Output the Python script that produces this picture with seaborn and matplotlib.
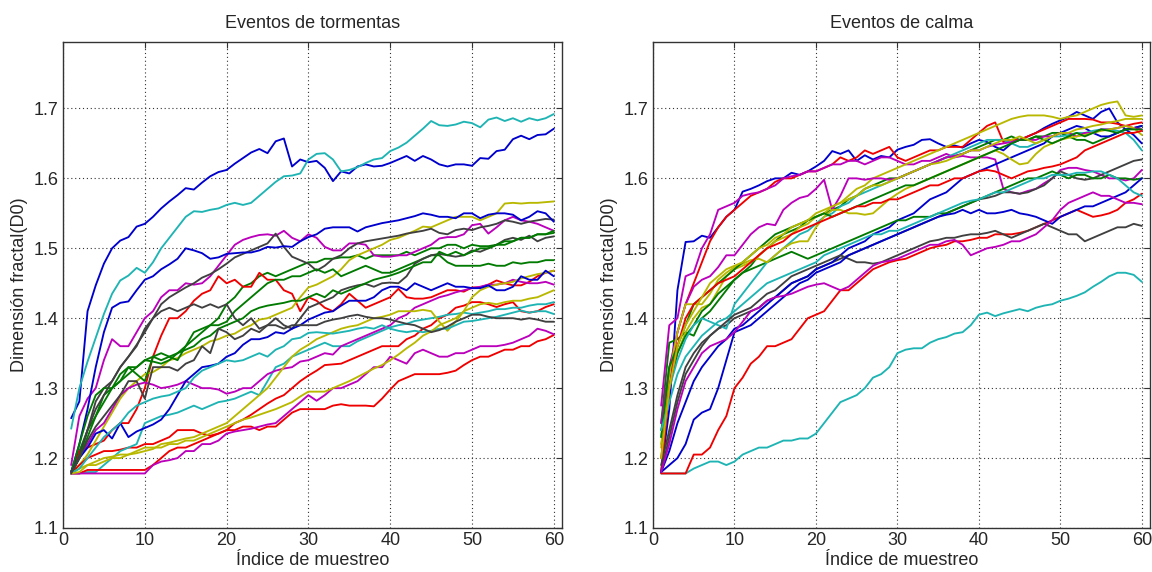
import numpy as np
import pandas as pd
import matplotlib
matplotlib.use("Agg")
import matplotlib.pyplot as plt
import seaborn as sns

sns.set_style("white")
plt.rcParams["font.family"] = ["Liberation Sans", "DejaVu Sans"]

# ---------------------------------------------------------------- storm events
storm_b1 = [1.257, 1.281, 1.41, 1.447, 1.478, 1.50, 1.511, 1.516, 1.531, 1.535, 1.545, 1.557, 1.567, 1.576, 1.586, 1.584, 1.594, 1.603, 1.609, 1.612, 1.621, 1.629, 1.637, 1.642, 1.636, 1.653, 1.657, 1.617, 1.627, 1.623, 1.625, 1.615, 1.596, 1.61, 1.607, 1.617, 1.62, 1.617, 1.618, 1.622, 1.627, 1.632, 1.625, 1.632, 1.627, 1.62, 1.617, 1.62, 1.62, 1.618, 1.629, 1.628, 1.639, 1.641, 1.656, 1.661, 1.656, 1.662, 1.663, 1.671]
storm_g1 = [1.18, 1.21, 1.24, 1.26, 1.29, 1.30, 1.31, 1.33, 1.33, 1.34, 1.345, 1.34, 1.345, 1.35, 1.36, 1.37, 1.38, 1.39, 1.40, 1.42, 1.43, 1.445, 1.45, 1.46, 1.465, 1.46, 1.465, 1.47, 1.475, 1.48, 1.48, 1.485, 1.485, 1.487, 1.487, 1.49, 1.485, 1.49, 1.49, 1.49, 1.49, 1.495, 1.49, 1.495, 1.50, 1.50, 1.505, 1.505, 1.50, 1.505, 1.503, 1.503, 1.505, 1.505, 1.51, 1.515, 1.515, 1.52, 1.52, 1.522]
storm_r1 = [1.18, 1.21, 1.215, 1.22, 1.225, 1.24, 1.25, 1.25, 1.27, 1.30, 1.345, 1.375, 1.40, 1.40, 1.41, 1.425, 1.435, 1.44, 1.46, 1.45, 1.455, 1.445, 1.445, 1.465, 1.455, 1.455, 1.44, 1.435, 1.41, 1.43, 1.425, 1.415, 1.41, 1.42, 1.435, 1.425, 1.415, 1.42, 1.425, 1.43, 1.442, 1.43, 1.428, 1.428, 1.43, 1.435, 1.44, 1.44, 1.438, 1.444, 1.444, 1.448, 1.454, 1.45, 1.447, 1.447, 1.452, 1.46, 1.465, 1.468]
storm_c1 = [1.242, 1.30, 1.338, 1.372, 1.406, 1.435, 1.454, 1.461, 1.472, 1.465, 1.48, 1.50, 1.515, 1.53, 1.545, 1.553, 1.552, 1.555, 1.557, 1.562, 1.565, 1.562, 1.565, 1.575, 1.585, 1.595, 1.603, 1.604, 1.607, 1.627, 1.635, 1.636, 1.627, 1.61, 1.612, 1.616, 1.622, 1.627, 1.629, 1.639, 1.644, 1.651, 1.661, 1.671, 1.682, 1.676, 1.675, 1.677, 1.681, 1.679, 1.673, 1.684, 1.687, 1.682, 1.686, 1.681, 1.686, 1.683, 1.686, 1.692]
storm_m1 = [1.19, 1.26, 1.285, 1.30, 1.34, 1.37, 1.36, 1.36, 1.38, 1.40, 1.41, 1.43, 1.44, 1.44, 1.45, 1.448, 1.45, 1.46, 1.475, 1.49, 1.505, 1.512, 1.516, 1.519, 1.52, 1.518, 1.525, 1.515, 1.51, 1.52, 1.515, 1.502, 1.497, 1.497, 1.507, 1.507, 1.505, 1.49, 1.488, 1.488, 1.49, 1.49, 1.495, 1.50, 1.505, 1.514, 1.516, 1.516, 1.52, 1.533, 1.535, 1.521, 1.53, 1.54, 1.545, 1.54, 1.538, 1.535, 1.53, 1.525]
storm_y1 = [1.18, 1.19, 1.205, 1.225, 1.245, 1.265, 1.285, 1.30, 1.31, 1.32, 1.323, 1.33, 1.34, 1.343, 1.35, 1.355, 1.36, 1.367, 1.37, 1.375, 1.378, 1.385, 1.39, 1.398, 1.40, 1.405, 1.41, 1.415, 1.43, 1.444, 1.448, 1.454, 1.46, 1.47, 1.483, 1.49, 1.495, 1.50, 1.505, 1.512, 1.515, 1.52, 1.525, 1.531, 1.53, 1.535, 1.54, 1.545, 1.545, 1.545, 1.54, 1.545, 1.55, 1.564, 1.565, 1.564, 1.565, 1.565, 1.566, 1.567]
storm_k1 = [1.18, 1.204, 1.24, 1.281, 1.30, 1.31, 1.33, 1.345, 1.362, 1.38, 1.40, 1.42, 1.43, 1.437, 1.444, 1.45, 1.458, 1.463, 1.47, 1.478, 1.487, 1.492, 1.497, 1.502, 1.507, 1.521, 1.502, 1.488, 1.483, 1.478, 1.468, 1.475, 1.485, 1.49, 1.50, 1.507, 1.51, 1.512, 1.514, 1.516, 1.518, 1.521, 1.523, 1.525, 1.528, 1.522, 1.52, 1.526, 1.528, 1.526, 1.53, 1.532, 1.535, 1.54, 1.538, 1.535, 1.538, 1.54, 1.542, 1.541]
storm_b2 = [1.18, 1.22, 1.27, 1.33, 1.38, 1.415, 1.422, 1.424, 1.44, 1.455, 1.46, 1.47, 1.477, 1.485, 1.50, 1.497, 1.493, 1.485, 1.487, 1.492, 1.493, 1.494, 1.494, 1.497, 1.502, 1.501, 1.503, 1.502, 1.51, 1.516, 1.52, 1.528, 1.53, 1.53, 1.53, 1.524, 1.53, 1.533, 1.536, 1.538, 1.54, 1.543, 1.546, 1.55, 1.548, 1.545, 1.545, 1.543, 1.55, 1.55, 1.543, 1.548, 1.55, 1.55, 1.548, 1.54, 1.545, 1.553, 1.55, 1.538]
storm_g2 = [1.18, 1.22, 1.26, 1.29, 1.30, 1.30, 1.32, 1.33, 1.32, 1.31, 1.345, 1.35, 1.345, 1.34, 1.36, 1.38, 1.385, 1.39, 1.39, 1.395, 1.41, 1.42, 1.43, 1.44, 1.45, 1.455, 1.455, 1.46, 1.46, 1.465, 1.47, 1.465, 1.47, 1.46, 1.465, 1.47, 1.475, 1.47, 1.465, 1.465, 1.47, 1.475, 1.48, 1.485, 1.49, 1.49, 1.48, 1.475, 1.475, 1.475, 1.475, 1.478, 1.475, 1.475, 1.48, 1.478, 1.48, 1.48, 1.483, 1.483]
storm_r2 = [1.178, 1.19, 1.20, 1.205, 1.21, 1.21, 1.212, 1.215, 1.215, 1.22, 1.22, 1.225, 1.23, 1.24, 1.24, 1.24, 1.235, 1.232, 1.235, 1.24, 1.25, 1.255, 1.262, 1.27, 1.278, 1.285, 1.29, 1.30, 1.31, 1.318, 1.325, 1.333, 1.334, 1.335, 1.34, 1.345, 1.35, 1.355, 1.36, 1.36, 1.36, 1.37, 1.375, 1.385, 1.39, 1.40, 1.405, 1.415, 1.418, 1.423, 1.423, 1.42, 1.416, 1.42, 1.423, 1.41, 1.408, 1.41, 1.416, 1.42]
storm_c2 = [1.178, 1.178, 1.18, 1.18, 1.19, 1.20, 1.21, 1.215, 1.22, 1.25, 1.255, 1.26, 1.262, 1.265, 1.27, 1.275, 1.27, 1.275, 1.28, 1.282, 1.285, 1.29, 1.295, 1.29, 1.31, 1.33, 1.335, 1.345, 1.35, 1.355, 1.36, 1.365, 1.36, 1.36, 1.36, 1.367, 1.372, 1.377, 1.382, 1.387, 1.39, 1.392, 1.396, 1.398, 1.40, 1.402, 1.405, 1.406, 1.408, 1.406, 1.408, 1.41, 1.413, 1.413, 1.415, 1.415, 1.418, 1.42, 1.42, 1.423]
storm_m2 = [1.18, 1.20, 1.22, 1.24, 1.25, 1.27, 1.29, 1.30, 1.305, 1.308, 1.305, 1.30, 1.302, 1.305, 1.31, 1.305, 1.30, 1.30, 1.298, 1.292, 1.295, 1.30, 1.30, 1.31, 1.32, 1.325, 1.328, 1.33, 1.338, 1.34, 1.345, 1.35, 1.348, 1.36, 1.365, 1.37, 1.375, 1.38, 1.385, 1.39, 1.40, 1.405, 1.415, 1.42, 1.425, 1.43, 1.433, 1.437, 1.44, 1.443, 1.445, 1.448, 1.448, 1.45, 1.455, 1.452, 1.45, 1.45, 1.452, 1.448]
storm_y2 = [1.178, 1.185, 1.19, 1.195, 1.20, 1.202, 1.205, 1.205, 1.207, 1.21, 1.213, 1.22, 1.222, 1.225, 1.228, 1.23, 1.235, 1.24, 1.245, 1.25, 1.26, 1.27, 1.28, 1.29, 1.30, 1.315, 1.33, 1.345, 1.355, 1.362, 1.37, 1.375, 1.38, 1.385, 1.388, 1.39, 1.395, 1.40, 1.402, 1.405, 1.41, 1.41, 1.41, 1.412, 1.41, 1.395, 1.382, 1.395, 1.41, 1.43, 1.44, 1.445, 1.448, 1.45, 1.452, 1.457, 1.46, 1.463, 1.465, 1.468]
storm_k2 = [1.18, 1.20, 1.24, 1.27, 1.29, 1.31, 1.33, 1.345, 1.36, 1.385, 1.40, 1.41, 1.415, 1.41, 1.415, 1.42, 1.415, 1.42, 1.415, 1.42, 1.40, 1.39, 1.40, 1.385, 1.39, 1.40, 1.39, 1.385, 1.40, 1.415, 1.42, 1.425, 1.43, 1.44, 1.444, 1.447, 1.449, 1.445, 1.45, 1.451, 1.45, 1.46, 1.478, 1.485, 1.49, 1.492, 1.49, 1.488, 1.49, 1.497, 1.495, 1.50, 1.505, 1.512, 1.515, 1.512, 1.518, 1.51, 1.515, 1.517]
storm_b3 = [1.178, 1.20, 1.215, 1.235, 1.24, 1.228, 1.25, 1.23, 1.238, 1.243, 1.248, 1.255, 1.27, 1.29, 1.31, 1.32, 1.33, 1.332, 1.335, 1.345, 1.35, 1.362, 1.37, 1.37, 1.373, 1.38, 1.378, 1.385, 1.39, 1.398, 1.403, 1.408, 1.41, 1.418, 1.425, 1.425, 1.425, 1.43, 1.44, 1.445, 1.445, 1.44, 1.45, 1.445, 1.44, 1.445, 1.45, 1.445, 1.445, 1.443, 1.443, 1.447, 1.44, 1.44, 1.445, 1.46, 1.455, 1.455, 1.468, 1.46]
storm_g3 = [1.178, 1.20, 1.23, 1.26, 1.28, 1.30, 1.31, 1.32, 1.33, 1.34, 1.338, 1.335, 1.34, 1.35, 1.355, 1.36, 1.37, 1.375, 1.385, 1.39, 1.395, 1.40, 1.41, 1.415, 1.418, 1.42, 1.422, 1.425, 1.425, 1.43, 1.435, 1.43, 1.44, 1.435, 1.44, 1.445, 1.45, 1.455, 1.458, 1.461, 1.465, 1.47, 1.475, 1.48, 1.48, 1.495, 1.49, 1.495, 1.49, 1.495, 1.50, 1.50, 1.505, 1.51, 1.51, 1.515, 1.515, 1.52, 1.52, 1.525]
storm_r3 = [1.178, 1.178, 1.183, 1.183, 1.183, 1.183, 1.183, 1.183, 1.183, 1.183, 1.19, 1.20, 1.21, 1.215, 1.215, 1.22, 1.225, 1.23, 1.235, 1.24, 1.24, 1.245, 1.245, 1.24, 1.245, 1.245, 1.255, 1.265, 1.27, 1.27, 1.27, 1.27, 1.275, 1.277, 1.275, 1.275, 1.275, 1.274, 1.285, 1.298, 1.31, 1.315, 1.32, 1.32, 1.32, 1.32, 1.322, 1.325, 1.333, 1.34, 1.345, 1.345, 1.35, 1.355, 1.355, 1.36, 1.36, 1.367, 1.37, 1.376]
storm_c3 = [1.178, 1.185, 1.20, 1.215, 1.23, 1.24, 1.25, 1.265, 1.275, 1.28, 1.285, 1.288, 1.29, 1.295, 1.30, 1.315, 1.325, 1.33, 1.335, 1.34, 1.338, 1.34, 1.345, 1.35, 1.345, 1.355, 1.36, 1.37, 1.372, 1.379, 1.38, 1.379, 1.378, 1.38, 1.382, 1.385, 1.387, 1.385, 1.39, 1.385, 1.382, 1.38, 1.382, 1.38, 1.382, 1.385, 1.385, 1.39, 1.395, 1.396, 1.398, 1.40, 1.402, 1.405, 1.408, 1.411, 1.408, 1.41, 1.41, 1.406]
storm_m3 = [1.178, 1.178, 1.178, 1.178, 1.178, 1.178, 1.178, 1.178, 1.178, 1.178, 1.19, 1.195, 1.197, 1.20, 1.21, 1.21, 1.22, 1.22, 1.225, 1.235, 1.238, 1.24, 1.242, 1.245, 1.248, 1.25, 1.26, 1.27, 1.28, 1.29, 1.282, 1.29, 1.30, 1.30, 1.305, 1.31, 1.32, 1.33, 1.33, 1.345, 1.34, 1.335, 1.35, 1.355, 1.35, 1.345, 1.345, 1.35, 1.35, 1.355, 1.36, 1.36, 1.36, 1.362, 1.365, 1.37, 1.375, 1.385, 1.382, 1.377]
storm_y3 = [1.178, 1.18, 1.19, 1.19, 1.195, 1.20, 1.20, 1.205, 1.21, 1.215, 1.215, 1.215, 1.22, 1.22, 1.225, 1.225, 1.23, 1.235, 1.24, 1.245, 1.25, 1.255, 1.258, 1.262, 1.266, 1.27, 1.275, 1.28, 1.288, 1.295, 1.295, 1.295, 1.30, 1.305, 1.31, 1.316, 1.322, 1.328, 1.333, 1.34, 1.348, 1.357, 1.365, 1.375, 1.381, 1.39, 1.395, 1.40, 1.41, 1.415, 1.42, 1.422, 1.42, 1.423, 1.425, 1.425, 1.428, 1.43, 1.435, 1.44]
storm_k3 = [1.178, 1.20, 1.225, 1.245, 1.26, 1.275, 1.29, 1.31, 1.31, 1.285, 1.33, 1.33, 1.33, 1.325, 1.335, 1.34, 1.36, 1.35, 1.385, 1.38, 1.37, 1.375, 1.385, 1.38, 1.39, 1.39, 1.385, 1.39, 1.39, 1.39, 1.39, 1.395, 1.398, 1.40, 1.403, 1.405, 1.402, 1.40, 1.40, 1.398, 1.395, 1.392, 1.39, 1.385, 1.38, 1.383, 1.388, 1.395, 1.40, 1.405, 1.405, 1.402, 1.40, 1.40, 1.40, 1.398, 1.40, 1.398, 1.395, 1.395]

# ----------------------------------------------------------------- calm events
calm_b1 = [1.18, 1.27, 1.44, 1.509, 1.51, 1.518, 1.515, 1.53, 1.545, 1.555, 1.581, 1.585, 1.59, 1.596, 1.60, 1.60, 1.608, 1.605, 1.61, 1.617, 1.625, 1.639, 1.635, 1.64, 1.625, 1.633, 1.627, 1.632, 1.63, 1.641, 1.645, 1.648, 1.655, 1.656, 1.65, 1.645, 1.647, 1.644, 1.65, 1.655, 1.652, 1.645, 1.64, 1.65, 1.655, 1.66, 1.665, 1.672, 1.678, 1.683, 1.688, 1.695, 1.69, 1.685, 1.695, 1.70, 1.68, 1.67, 1.662, 1.65]
calm_g1 = [1.25, 1.365, 1.37, 1.38, 1.375, 1.40, 1.41, 1.425, 1.44, 1.455, 1.465, 1.475, 1.49, 1.50, 1.51, 1.52, 1.525, 1.53, 1.54, 1.545, 1.55, 1.555, 1.56, 1.57, 1.575, 1.585, 1.59, 1.595, 1.60, 1.60, 1.605, 1.61, 1.615, 1.62, 1.625, 1.63, 1.632, 1.635, 1.64, 1.645, 1.65, 1.655, 1.655, 1.66, 1.655, 1.655, 1.66, 1.66, 1.665, 1.665, 1.66, 1.655, 1.655, 1.65, 1.655, 1.66, 1.665, 1.67, 1.672, 1.675]
calm_r1 = [1.18, 1.30, 1.38, 1.42, 1.45, 1.48, 1.51, 1.53, 1.545, 1.555, 1.565, 1.575, 1.58, 1.585, 1.595, 1.60, 1.60, 1.605, 1.61, 1.61, 1.615, 1.62, 1.63, 1.625, 1.63, 1.64, 1.635, 1.64, 1.645, 1.63, 1.625, 1.63, 1.635, 1.64, 1.64, 1.645, 1.645, 1.645, 1.655, 1.665, 1.675, 1.68, 1.652, 1.655, 1.655, 1.66, 1.665, 1.67, 1.675, 1.68, 1.685, 1.685, 1.685, 1.684, 1.68, 1.68, 1.678, 1.675, 1.678, 1.68]
calm_c1 = [1.178, 1.178, 1.178, 1.178, 1.185, 1.19, 1.195, 1.195, 1.19, 1.195, 1.205, 1.21, 1.215, 1.215, 1.22, 1.225, 1.225, 1.228, 1.228, 1.235, 1.25, 1.265, 1.28, 1.285, 1.29, 1.30, 1.315, 1.32, 1.33, 1.35, 1.355, 1.357, 1.357, 1.365, 1.37, 1.373, 1.378, 1.38, 1.39, 1.405, 1.408, 1.403, 1.407, 1.41, 1.413, 1.41, 1.415, 1.418, 1.42, 1.425, 1.428, 1.432, 1.437, 1.445, 1.452, 1.46, 1.465, 1.465, 1.462, 1.452]
calm_m1 = [1.275, 1.39, 1.40, 1.46, 1.465, 1.50, 1.52, 1.555, 1.56, 1.565, 1.575, 1.578, 1.58, 1.585, 1.59, 1.60, 1.603, 1.605, 1.61, 1.61, 1.615, 1.62, 1.62, 1.625, 1.625, 1.62, 1.625, 1.63, 1.63, 1.625, 1.62, 1.62, 1.625, 1.625, 1.63, 1.635, 1.63, 1.632, 1.63, 1.63, 1.63, 1.627, 1.585, 1.58, 1.578, 1.582, 1.585, 1.593, 1.60, 1.612, 1.615, 1.615, 1.612, 1.61, 1.605, 1.60, 1.60, 1.597, 1.60, 1.612]
calm_y1 = [1.22, 1.30, 1.35, 1.38, 1.40, 1.415, 1.42, 1.44, 1.46, 1.47, 1.475, 1.48, 1.49, 1.50, 1.51, 1.515, 1.52, 1.53, 1.535, 1.545, 1.55, 1.56, 1.565, 1.575, 1.585, 1.59, 1.60, 1.605, 1.61, 1.615, 1.62, 1.625, 1.63, 1.635, 1.64, 1.645, 1.65, 1.655, 1.66, 1.665, 1.67, 1.675, 1.68, 1.685, 1.688, 1.69, 1.69, 1.69, 1.688, 1.685, 1.688, 1.69, 1.695, 1.70, 1.705, 1.708, 1.71, 1.69, 1.688, 1.69]
calm_k1 = [1.19, 1.24, 1.29, 1.33, 1.35, 1.365, 1.375, 1.385, 1.39, 1.40, 1.405, 1.41, 1.415, 1.425, 1.43, 1.44, 1.45, 1.455, 1.46, 1.47, 1.475, 1.48, 1.485, 1.49, 1.495, 1.50, 1.505, 1.51, 1.515, 1.52, 1.525, 1.53, 1.535, 1.54, 1.545, 1.55, 1.555, 1.56, 1.565, 1.57, 1.572, 1.575, 1.58, 1.58, 1.578, 1.58, 1.585, 1.59, 1.60, 1.61, 1.605, 1.60, 1.598, 1.60, 1.605, 1.61, 1.615, 1.62, 1.625, 1.627]
calm_b2 = [1.18, 1.21, 1.25, 1.28, 1.31, 1.33, 1.345, 1.36, 1.37, 1.385, 1.39, 1.40, 1.41, 1.42, 1.43, 1.44, 1.45, 1.455, 1.46, 1.47, 1.475, 1.48, 1.49, 1.50, 1.505, 1.51, 1.52, 1.525, 1.53, 1.54, 1.545, 1.55, 1.56, 1.57, 1.575, 1.58, 1.59, 1.60, 1.605, 1.61, 1.615, 1.62, 1.625, 1.63, 1.635, 1.64, 1.645, 1.65, 1.66, 1.665, 1.67, 1.675, 1.672, 1.665, 1.66, 1.66, 1.665, 1.67, 1.672, 1.675]
calm_g2 = [1.24, 1.30, 1.35, 1.375, 1.39, 1.41, 1.42, 1.435, 1.445, 1.455, 1.465, 1.47, 1.475, 1.48, 1.485, 1.49, 1.495, 1.49, 1.485, 1.49, 1.495, 1.50, 1.505, 1.51, 1.515, 1.52, 1.525, 1.53, 1.535, 1.54, 1.54, 1.545, 1.545, 1.545, 1.55, 1.55, 1.555, 1.56, 1.565, 1.57, 1.575, 1.58, 1.585, 1.59, 1.595, 1.60, 1.60, 1.605, 1.61, 1.605, 1.60, 1.605, 1.605, 1.60, 1.60, 1.605, 1.60, 1.60, 1.598, 1.60]
calm_r2 = [1.178, 1.178, 1.178, 1.178, 1.205, 1.205, 1.215, 1.24, 1.26, 1.30, 1.315, 1.335, 1.345, 1.36, 1.36, 1.365, 1.37, 1.385, 1.40, 1.405, 1.41, 1.425, 1.44, 1.44, 1.45, 1.46, 1.47, 1.475, 1.48, 1.483, 1.485, 1.49, 1.495, 1.50, 1.503, 1.505, 1.51, 1.51, 1.512, 1.515, 1.515, 1.52, 1.52, 1.52, 1.522, 1.525, 1.53, 1.535, 1.54, 1.545, 1.55, 1.555, 1.55, 1.545, 1.547, 1.55, 1.555, 1.565, 1.57, 1.578]
calm_c2 = [1.23, 1.30, 1.34, 1.37, 1.39, 1.40, 1.395, 1.39, 1.385, 1.42, 1.435, 1.45, 1.465, 1.48, 1.49, 1.50, 1.51, 1.52, 1.525, 1.535, 1.545, 1.55, 1.56, 1.565, 1.575, 1.58, 1.585, 1.59, 1.595, 1.60, 1.605, 1.61, 1.615, 1.62, 1.625, 1.63, 1.635, 1.64, 1.645, 1.65, 1.655, 1.655, 1.655, 1.65, 1.645, 1.645, 1.65, 1.655, 1.66, 1.66, 1.662, 1.665, 1.665, 1.668, 1.67, 1.67, 1.668, 1.665, 1.655, 1.64]
calm_m2 = [1.25, 1.33, 1.38, 1.42, 1.445, 1.455, 1.46, 1.473, 1.49, 1.49, 1.505, 1.52, 1.53, 1.535, 1.533, 1.555, 1.565, 1.572, 1.575, 1.585, 1.598, 1.555, 1.575, 1.60, 1.60, 1.598, 1.60, 1.60, 1.598, 1.60, 1.605, 1.61, 1.615, 1.62, 1.625, 1.63, 1.632, 1.635, 1.64, 1.64, 1.645, 1.648, 1.65, 1.652, 1.655, 1.655, 1.655, 1.66, 1.66, 1.665, 1.665, 1.66, 1.665, 1.665, 1.67, 1.67, 1.672, 1.675, 1.672, 1.67]
calm_y2 = [1.215, 1.32, 1.38, 1.42, 1.42, 1.42, 1.435, 1.455, 1.465, 1.473, 1.478, 1.483, 1.485, 1.48, 1.49, 1.50, 1.507, 1.51, 1.51, 1.53, 1.545, 1.555, 1.555, 1.55, 1.55, 1.548, 1.55, 1.56, 1.57, 1.578, 1.585, 1.59, 1.595, 1.60, 1.605, 1.61, 1.615, 1.62, 1.625, 1.63, 1.635, 1.64, 1.635, 1.627, 1.62, 1.622, 1.635, 1.645, 1.65, 1.655, 1.658, 1.66, 1.662, 1.665, 1.668, 1.67, 1.672, 1.675, 1.672, 1.662]
calm_k2 = [1.18, 1.23, 1.28, 1.32, 1.34, 1.36, 1.375, 1.385, 1.395, 1.405, 1.41, 1.415, 1.425, 1.435, 1.44, 1.45, 1.46, 1.465, 1.47, 1.475, 1.48, 1.485, 1.49, 1.485, 1.48, 1.48, 1.478, 1.48, 1.485, 1.49, 1.495, 1.50, 1.505, 1.51, 1.512, 1.515, 1.515, 1.518, 1.52, 1.52, 1.522, 1.525, 1.52, 1.515, 1.52, 1.525, 1.53, 1.535, 1.53, 1.525, 1.52, 1.52, 1.51, 1.515, 1.52, 1.525, 1.53, 1.53, 1.535, 1.532]
calm_b3 = [1.18, 1.19, 1.20, 1.22, 1.255, 1.265, 1.27, 1.30, 1.34, 1.38, 1.385, 1.39, 1.40, 1.41, 1.42, 1.43, 1.44, 1.45, 1.455, 1.465, 1.47, 1.475, 1.48, 1.49, 1.495, 1.50, 1.505, 1.51, 1.515, 1.52, 1.525, 1.53, 1.535, 1.54, 1.545, 1.548, 1.55, 1.555, 1.55, 1.555, 1.55, 1.55, 1.552, 1.555, 1.55, 1.548, 1.545, 1.54, 1.535, 1.545, 1.55, 1.555, 1.56, 1.56, 1.565, 1.57, 1.575, 1.58, 1.59, 1.60]
calm_g3 = [1.23, 1.33, 1.36, 1.39, 1.42, 1.43, 1.44, 1.45, 1.46, 1.47, 1.48, 1.49, 1.50, 1.51, 1.52, 1.525, 1.53, 1.535, 1.54, 1.545, 1.55, 1.545, 1.55, 1.555, 1.56, 1.565, 1.57, 1.575, 1.58, 1.585, 1.59, 1.59, 1.595, 1.60, 1.605, 1.61, 1.615, 1.62, 1.625, 1.63, 1.635, 1.64, 1.645, 1.65, 1.655, 1.655, 1.66, 1.655, 1.65, 1.655, 1.66, 1.665, 1.66, 1.665, 1.67, 1.668, 1.665, 1.67, 1.67, 1.67]
calm_r3 = [1.20, 1.30, 1.36, 1.40, 1.42, 1.43, 1.44, 1.45, 1.455, 1.46, 1.47, 1.48, 1.49, 1.50, 1.505, 1.51, 1.52, 1.525, 1.53, 1.535, 1.54, 1.545, 1.55, 1.555, 1.56, 1.56, 1.565, 1.565, 1.57, 1.57, 1.575, 1.58, 1.585, 1.59, 1.59, 1.595, 1.60, 1.60, 1.605, 1.61, 1.612, 1.61, 1.605, 1.60, 1.605, 1.61, 1.612, 1.615, 1.617, 1.62, 1.625, 1.63, 1.64, 1.645, 1.65, 1.655, 1.66, 1.665, 1.665, 1.668]
calm_c3 = [1.24, 1.28, 1.32, 1.345, 1.36, 1.375, 1.385, 1.395, 1.40, 1.41, 1.42, 1.43, 1.44, 1.45, 1.455, 1.46, 1.465, 1.47, 1.475, 1.48, 1.49, 1.495, 1.50, 1.505, 1.51, 1.515, 1.52, 1.52, 1.525, 1.525, 1.53, 1.535, 1.54, 1.545, 1.55, 1.555, 1.56, 1.565, 1.568, 1.57, 1.575, 1.58, 1.58, 1.585, 1.59, 1.595, 1.60, 1.60, 1.605, 1.605, 1.605, 1.608, 1.608, 1.61, 1.61, 1.605, 1.60, 1.59, 1.58, 1.575]
calm_m3 = [1.18, 1.22, 1.27, 1.31, 1.33, 1.35, 1.36, 1.365, 1.37, 1.38, 1.395, 1.41, 1.415, 1.425, 1.43, 1.432, 1.435, 1.44, 1.445, 1.448, 1.45, 1.445, 1.44, 1.445, 1.455, 1.465, 1.475, 1.48, 1.482, 1.485, 1.49, 1.495, 1.50, 1.505, 1.505, 1.51, 1.512, 1.505, 1.49, 1.495, 1.50, 1.502, 1.505, 1.51, 1.51, 1.515, 1.52, 1.53, 1.54, 1.555, 1.565, 1.57, 1.575, 1.58, 1.575, 1.575, 1.57, 1.565, 1.565, 1.563]
calm_y3 = [1.20, 1.30, 1.36, 1.39, 1.41, 1.43, 1.45, 1.46, 1.47, 1.475, 1.48, 1.49, 1.50, 1.505, 1.515, 1.52, 1.53, 1.535, 1.54, 1.55, 1.555, 1.56, 1.565, 1.57, 1.575, 1.585, 1.59, 1.59, 1.595, 1.60, 1.605, 1.61, 1.615, 1.62, 1.622, 1.625, 1.63, 1.635, 1.64, 1.64, 1.645, 1.65, 1.655, 1.655, 1.66, 1.655, 1.65, 1.655, 1.66, 1.665, 1.665, 1.67, 1.672, 1.675, 1.677, 1.68, 1.682, 1.685, 1.685, 1.685]

storm_series = {
    "b1": storm_b1, "g1": storm_g1, "r1": storm_r1, "c1": storm_c1, "m1": storm_m1, "y1": storm_y1, "k1": storm_k1,
    "b2": storm_b2, "g2": storm_g2, "r2": storm_r2, "c2": storm_c2, "m2": storm_m2, "y2": storm_y2, "k2": storm_k2,
    "b3": storm_b3, "g3": storm_g3, "r3": storm_r3, "c3": storm_c3, "m3": storm_m3, "y3": storm_y3, "k3": storm_k3,
}
calm_series = {
    "b1": calm_b1, "g1": calm_g1, "r1": calm_r1, "c1": calm_c1, "m1": calm_m1, "y1": calm_y1, "k1": calm_k1,
    "b2": calm_b2, "g2": calm_g2, "r2": calm_r2, "c2": calm_c2, "m2": calm_m2, "y2": calm_y2, "k2": calm_k2,
    "b3": calm_b3, "g3": calm_g3, "r3": calm_r3, "c3": calm_c3, "m3": calm_m3, "y3": calm_y3,
}

# classic colour cycle: blue, green, red, cyan, magenta, olive, dark grey
base_colors = {
    "b": "#0000cc", "g": "#007a00", "r": "#ee0000", "c": "#1fb4b4",
    "m": "#bb00bb", "y": "#b8b800", "k": "#404040",
}

panel_titles = ["Eventos de tormentas", "Eventos de calma"]
x_label = "Índice de muestreo"
y_label = "Dimensión fractal(D0)"
x_ticks = [0, 10, 20, 30, 40, 50, 60]
y_ticks = [1.1, 1.2, 1.3, 1.4, 1.5, 1.6, 1.7]


def to_long(series):
    frames = []
    for name, vals in series.items():
        frames.append(pd.DataFrame({
            "indice": np.arange(1, len(vals) + 1),
            "d0": vals,
            "serie": name,
        }))
    return pd.concat(frames, ignore_index=True)


fig = plt.figure(figsize=(11.52, 5.72), dpi=100)
ax_left = fig.add_axes([63 / 1152, 1 - 528 / 572, 499 / 1152, 486 / 572])
ax_right = fig.add_axes([653 / 1152, 1 - 528 / 572, 497 / 1152, 486 / 572])

for ax, series, title in zip([ax_left, ax_right], [storm_series, calm_series], panel_titles):
    df = to_long(series)
    order = list(series.keys())
    palette = {k: base_colors[k[0]] for k in order}
    sns.lineplot(data=df, x="indice", y="d0", hue="serie", hue_order=order,
                 palette=palette, estimator=None, sort=False, legend=False,
                 linewidth=1.35, ax=ax)

    ax.set_xlim(0, 61)
    ax.set_ylim(1.1, 1.795)
    ax.set_xticks(x_ticks)
    ax.set_yticks(y_ticks)
    ax.set_xticklabels([str(t) for t in x_ticks])
    ax.set_yticklabels([f"{t:.1f}" for t in y_ticks])
    ax.grid(True, linestyle=(0, (1, 2.5)), linewidth=0.8, color="#333333")
    ax.set_axisbelow(True)
    ax.tick_params(direction="in", length=4, width=0.8, color="#333333",
                   top=True, right=True, labelsize=13, pad=3)
    for sp in ax.spines.values():
        sp.set_color("#333333")
        sp.set_linewidth(1.0)
    ax.set_title(title, fontsize=13, pad=10)
    ax.set_xlabel(x_label, fontsize=13, labelpad=2)
    ax.set_ylabel(y_label, fontsize=13, labelpad=4)

fig.savefig("out.png", dpi=100, facecolor="white")
